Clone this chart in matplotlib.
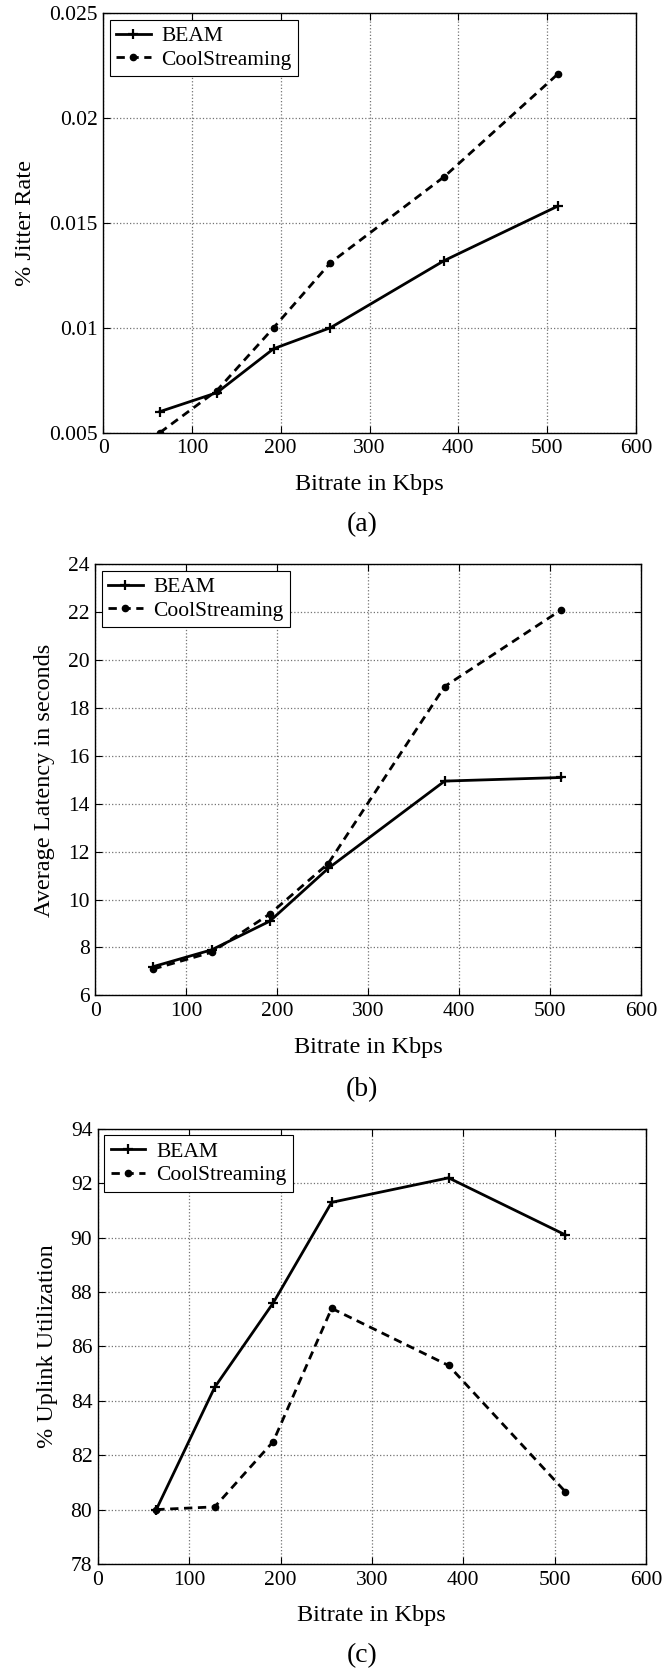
import matplotlib.pyplot as plt
from matplotlib.ticker import MultipleLocator, FuncFormatter

plt.rcParams['font.family'] = ['Liberation Serif', 'DejaVu Serif']

# bitrates (Kbps)
bitrate = [64, 128, 192, 256, 384, 512]

# (a) jitter rate
jitter_beam = [0.0060, 0.0069, 0.0090, 0.0100, 0.0132, 0.0158]
jitter_cool = [0.0050, 0.0070, 0.0100, 0.0131, 0.0172, 0.0221]

# (b) latency
latency_beam = [7.2, 7.9, 9.1, 11.3, 14.95, 15.1]
latency_cool = [7.1, 7.8, 9.4, 11.5, 18.9, 22.1]

# (c) uplink utilization
uplink_beam = [80.0, 84.5, 87.6, 91.3, 92.2, 90.1]
uplink_cool = [80.0, 80.1, 82.5, 87.4, 85.3, 80.65]

panels = [
    dict(beam=jitter_beam, cool=jitter_cool, ylabel='% Jitter Rate',
         ylim=(0.005, 0.025), ystep=0.005, caption='(a)',
         rect=[0.154, 0.741, 0.795, 0.251], cap_y=1 - 525 / 1670),
    dict(beam=latency_beam, cool=latency_cool, ylabel='Average Latency in seconds',
         ylim=(6, 24), ystep=2, caption='(b)',
         rect=[0.142, 0.404, 0.815, 0.258], cap_y=1 - 1090 / 1670),
    dict(beam=uplink_beam, cool=uplink_cool, ylabel='% Uplink Utilization',
         ylim=(78, 94), ystep=2, caption='(c)',
         rect=[0.146, 0.0635, 0.818, 0.2605], cap_y=1 - 1656 / 1670),
]

fig = plt.figure(figsize=(6.7, 16.7), dpi=100)

for p in panels:
    ax = fig.add_axes(p['rect'])
    ax.plot(bitrate, p['beam'], color='black', lw=2.0, marker='+', ms=7,
            mew=1.6, label='BEAM')
    ax.plot(bitrate, p['cool'], color='black', lw=2.0, ls=(0, (3, 2)),
            marker='o', ms=4.5, label='CoolStreaming')

    ax.set_xlim(0, 600)
    ax.set_ylim(*p['ylim'])
    ax.xaxis.set_major_locator(MultipleLocator(100))
    ax.yaxis.set_major_locator(MultipleLocator(p['ystep']))
    ax.yaxis.set_major_formatter(FuncFormatter(lambda v, pos: '%g' % round(v, 6)))
    ax.tick_params(direction='in', top=True, right=True, labelsize=15.5,
                   length=5, width=0.8)
    ax.tick_params(axis='x', pad=5)
    ax.tick_params(axis='y', pad=4)
    ax.grid(True, ls=':', color='0.45', lw=0.9)
    for s in ax.spines.values():
        s.set_linewidth(1.0)

    ax.set_xlabel('Bitrate in Kbps', fontsize=17.5, labelpad=11)
    ax.set_ylabel(p['ylabel'], fontsize=17.5, labelpad=9)

    leg = ax.legend(loc='upper left', fontsize=15.5, handlelength=1.6,
                    handletextpad=0.5, borderpad=0.3, labelspacing=0.15,
                    fancybox=False, framealpha=1, borderaxespad=0.3)
    leg.get_frame().set_edgecolor('black')
    leg.get_frame().set_linewidth(0.8)

    fig.text(0.5 + 0.04, p['cap_y'], p['caption'], fontsize=20,
             ha='center', va='center')

fig.savefig('out.png', dpi=100)
